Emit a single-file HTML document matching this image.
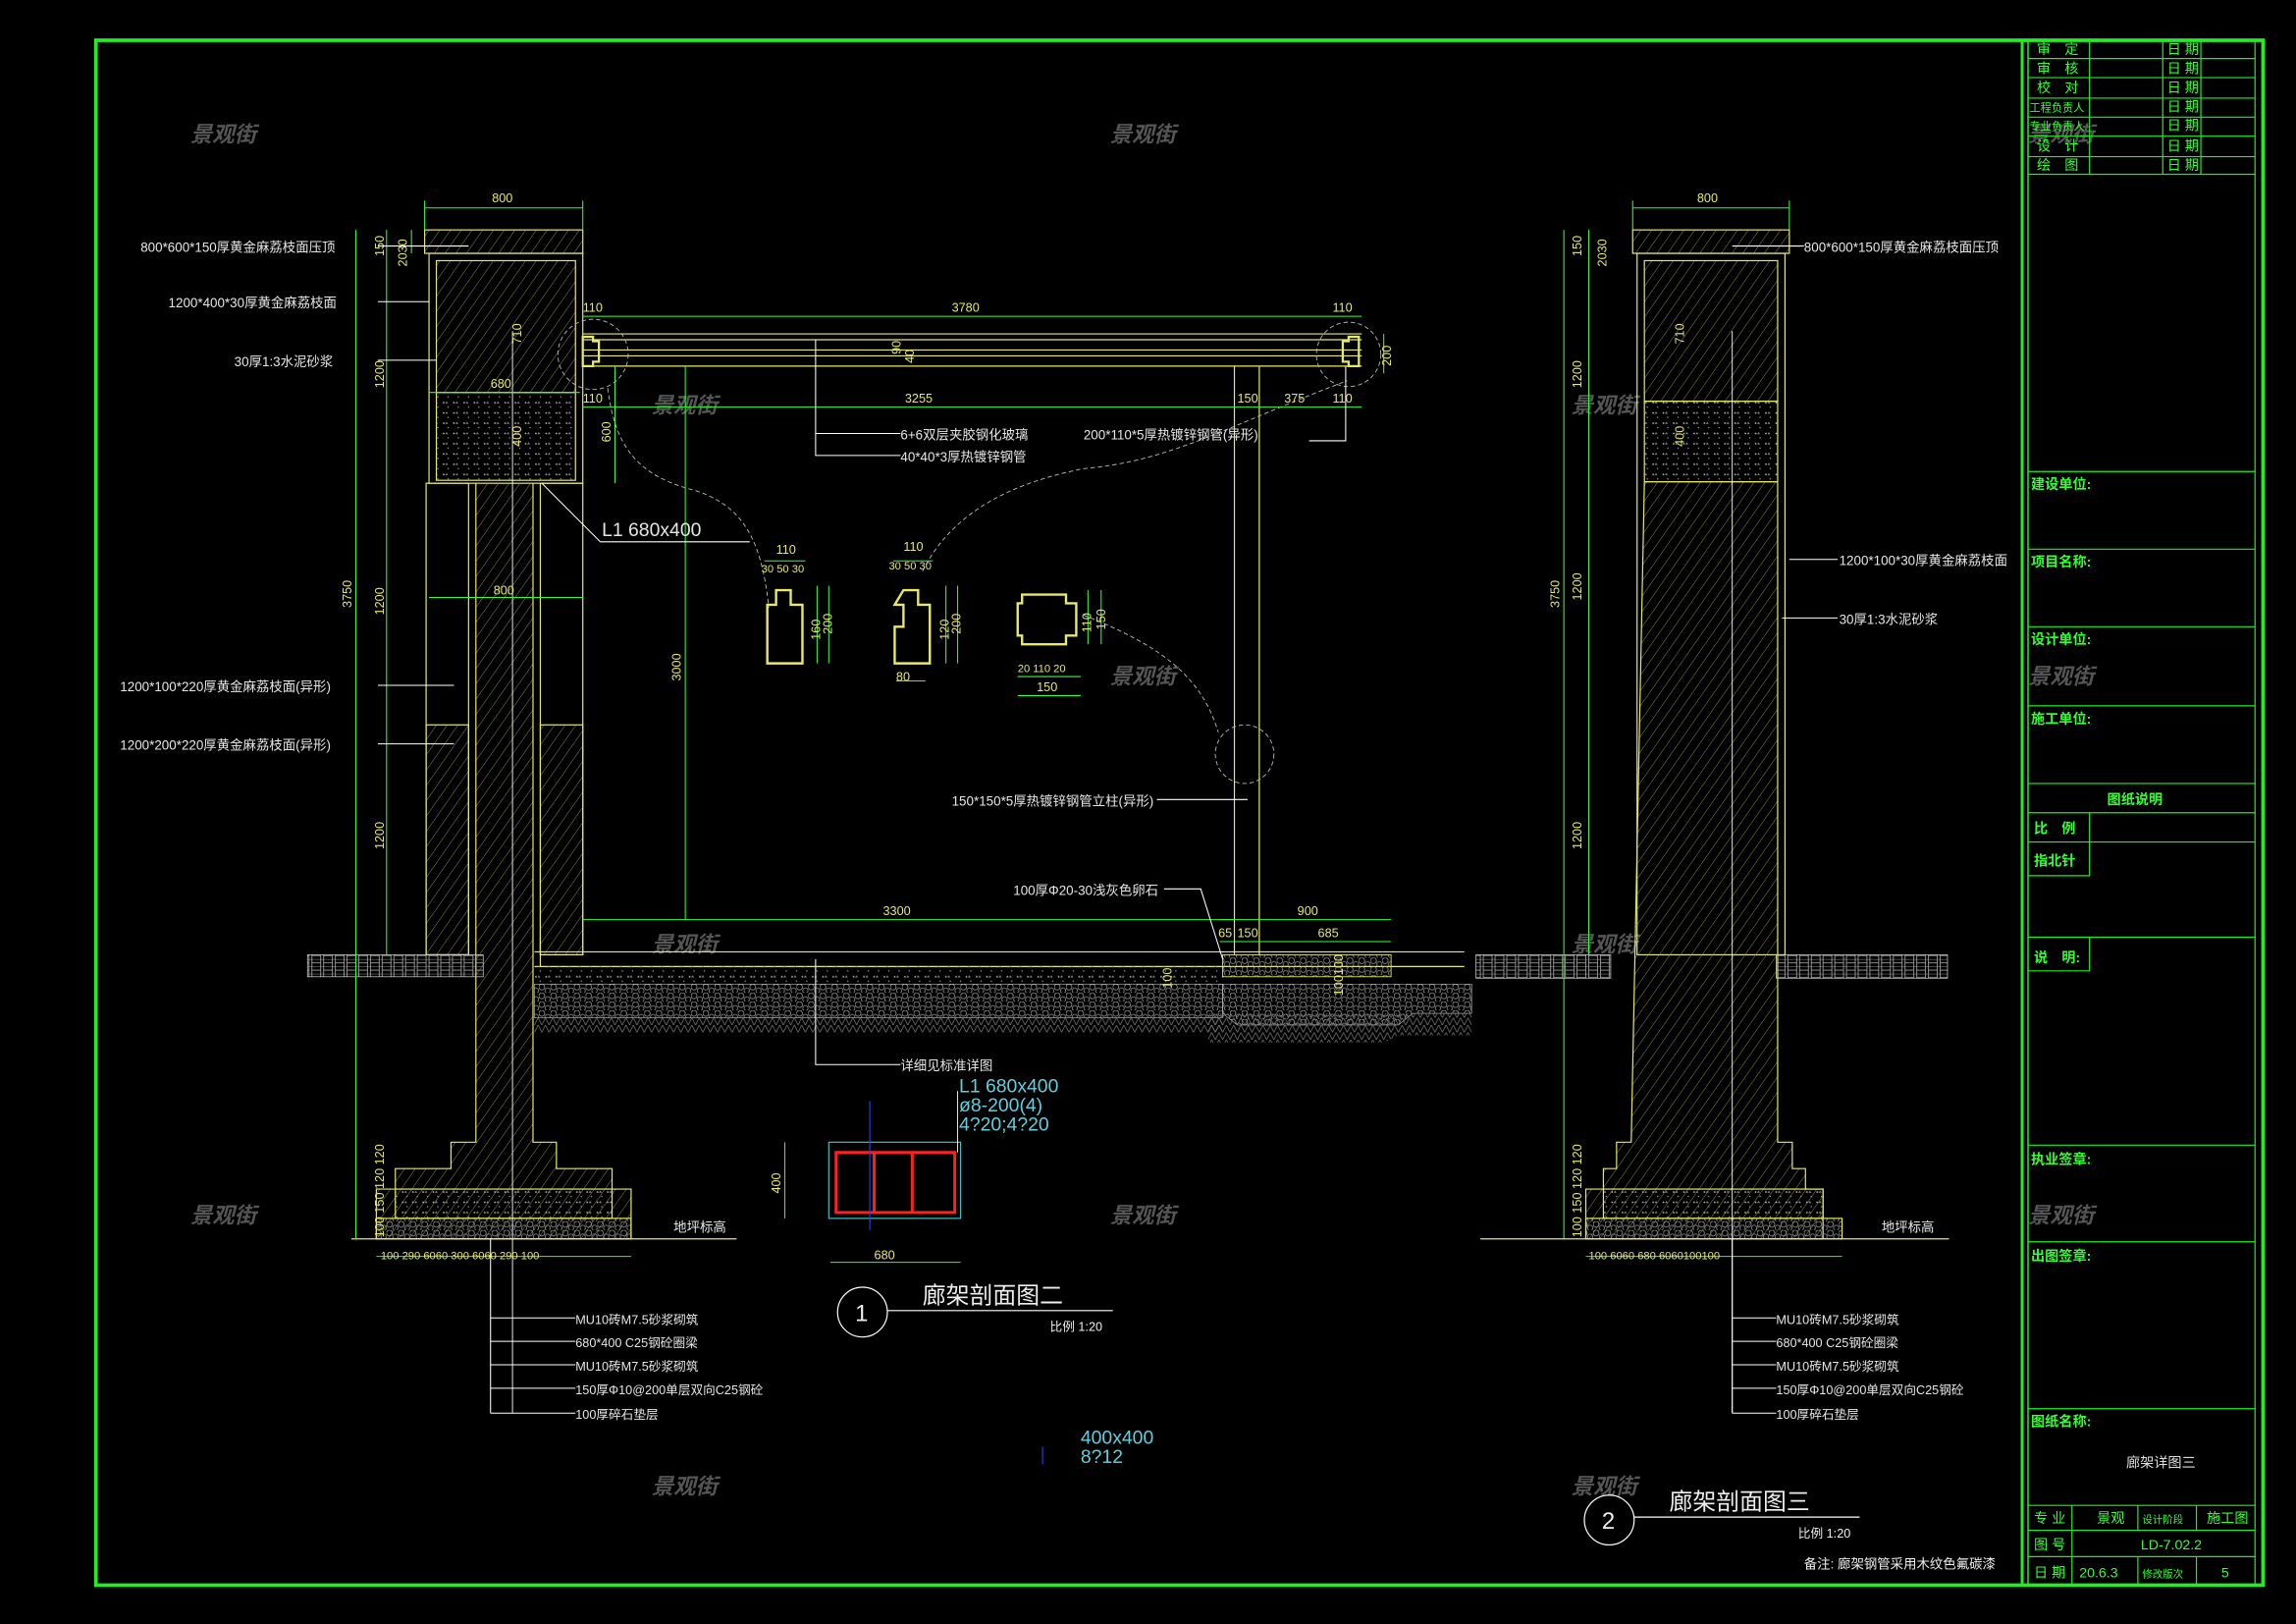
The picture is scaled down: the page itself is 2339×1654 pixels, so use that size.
<!DOCTYPE html>
<html><head><meta charset="utf-8"><style>
html,body{margin:0;padding:0;background:#000;width:2339px;height:1654px;overflow:hidden}
svg{display:block}
text{font-family:"Liberation Sans","Noto Sans CJK SC",sans-serif}
.t{fill:#e6e6e6;font-size:9px}
.d{fill:#e8e86a;font-size:8.5px}
.g{fill:#33ff33;font-size:9.5px}
.w{fill:#555;font-size:15px;font-style:italic;font-weight:bold}
</style></head><body>
<svg width="2339" height="1654" viewBox="0 0 1568 1109" preserveAspectRatio="none">
<defs>
<pattern id="h" width="6" height="6" patternUnits="userSpaceOnUse" patternTransform="rotate(35)"><line x1="0" y1="0" x2="0" y2="6" stroke="#9a9a50" stroke-width="0.6"/></pattern>
<pattern id="c" width="7" height="7" patternUnits="userSpaceOnUse"><circle cx="2" cy="2" r="0.6" fill="#bbb"/><circle cx="5" cy="5" r="0.5" fill="#999"/><path d="M4 1l1 1.5h-2z" fill="#888"/></pattern>
<pattern id="gr" width="8" height="6" patternUnits="userSpaceOnUse"><circle cx="2" cy="2" r="2" fill="none" stroke="#aaa" stroke-width="0.5"/><circle cx="6" cy="4.5" r="1.8" fill="none" stroke="#999" stroke-width="0.5"/></pattern>
<pattern id="gh" width="8" height="5" patternUnits="userSpaceOnUse"><path d="M0 0h8M0 2.5h3M5 2.5h3M3 0v5M5 0v5" stroke="#bbb" stroke-width="0.5" fill="none"/></pattern>
<pattern id="zz" width="5" height="5" patternUnits="userSpaceOnUse"><path d="M0 5l2.5-5 2.5 5" stroke="#777" stroke-width="0.5" fill="none"/></pattern>
</defs>

<!-- watermarks -->
<g class="w">
<text x="130" y="97">景观街</text><text x="758" y="97">景观街</text><text x="1385" y="97">景观街</text>
<text x="445" y="282">景观街</text><text x="1073" y="282">景观街</text>
<text x="758" y="467">景观街</text><text x="1385" y="467">景观街</text>
<text x="445" y="650">景观街</text><text x="1073" y="650">景观街</text>
<text x="130" y="835">景观街</text><text x="758" y="835">景观街</text><text x="1385" y="835">景观街</text>
<text x="445" y="1020">景观街</text><text x="1073" y="1020">景观街</text>
</g>

<!-- border -->
<rect x="65.5" y="27.5" width="1480" height="1055" fill="none" stroke="#22ee22" stroke-width="2.5"/>
<g stroke="#22ee22" fill="none">
<line x1="1381" y1="27" x2="1381" y2="1083" stroke-width="2"/>
<line x1="1385" y1="27" x2="1385" y2="1083" stroke-width="1"/>
<g stroke-width="0.8">
<line x1="1385" y1="40" x2="1540" y2="40"/><line x1="1385" y1="53" x2="1540" y2="53"/><line x1="1385" y1="67" x2="1540" y2="67"/><line x1="1385" y1="80" x2="1540" y2="80"/><line x1="1385" y1="93" x2="1540" y2="93"/><line x1="1385" y1="107" x2="1540" y2="107"/><line x1="1385" y1="119" x2="1540" y2="119"/>
<line x1="1427" y1="27" x2="1427" y2="119"/><line x1="1477" y1="27" x2="1477" y2="119"/><line x1="1503" y1="27" x2="1503" y2="119"/>
<line x1="1540" y1="27" x2="1540" y2="1083"/>
<line x1="1385" y1="322" x2="1540" y2="322"/><line x1="1385" y1="375" x2="1540" y2="375"/><line x1="1385" y1="428" x2="1540" y2="428"/><line x1="1385" y1="482" x2="1540" y2="482"/>
<line x1="1385" y1="535" x2="1540" y2="535"/><line x1="1385" y1="555" x2="1540" y2="555"/><line x1="1385" y1="575" x2="1540" y2="575"/>
<path d="M1427 555v43h-42"/><line x1="1385" y1="640" x2="1540" y2="640"/><path d="M1427 640v23h-42"/>
<line x1="1385" y1="782" x2="1540" y2="782"/><line x1="1385" y1="848" x2="1540" y2="848"/><line x1="1385" y1="962" x2="1540" y2="962"/>
<line x1="1385" y1="1028" x2="1540" y2="1028"/><line x1="1385" y1="1045" x2="1540" y2="1045"/><line x1="1385" y1="1063" x2="1540" y2="1063"/>
<line x1="1415" y1="1028" x2="1415" y2="1083"/><line x1="1460" y1="1028" x2="1460" y2="1045"/><line x1="1500" y1="1028" x2="1500" y2="1045"/>
<line x1="1460" y1="1063" x2="1460" y2="1083"/><line x1="1500" y1="1063" x2="1500" y2="1083"/>
</g></g>
<g class="g" font-size="8">
<text x="1391" y="37">审　定</text><text x="1391" y="50">审　核</text><text x="1391" y="63">校　对</text><text x="1386" y="76" font-size="7.5">工程负责人</text><text x="1386" y="89" font-size="7.5">专业负责人</text><text x="1391" y="103">设　计</text><text x="1391" y="116">绘　图</text>
<text x="1480" y="37">日 期</text><text x="1480" y="50">日 期</text><text x="1480" y="63">日 期</text><text x="1480" y="76">日 期</text><text x="1480" y="89">日 期</text><text x="1480" y="103">日 期</text><text x="1480" y="116">日 期</text>
</g>
<g class="g" font-weight="bold">
<text x="1387" y="334">建设单位:</text><text x="1387" y="387">项目名称:</text><text x="1387" y="440">设计单位:</text><text x="1387" y="494">施工单位:</text>
<text x="1439" y="549">图纸说明</text><text x="1389" y="569">比　例</text><text x="1389" y="591">指北针</text><text x="1389" y="657">说　明:</text>
<text x="1387" y="795">执业签章:</text><text x="1387" y="861">出图签章:</text><text x="1387" y="974">图纸名称:</text>
</g>
<g class="g" font-size="8">
<text x="1452" y="1002" fill="#ddd">廊架详图三</text>
<text x="1389" y="1040">专 业</text><text x="1432" y="1040">景观</text><text x="1463" y="1040" font-size="7">设计阶段</text><text x="1507" y="1040">施工图</text>
<text x="1389" y="1058">图 号</text><text x="1462" y="1058">LD-7.02.2</text>
<text x="1389" y="1077">日 期</text><text x="1420" y="1077">20.6.3</text><text x="1463" y="1077" font-size="7">修改版次</text><text x="1517" y="1077">5</text>
</g>

<!-- ===== SECTION 1 LEFT PILLAR ===== -->
<g stroke="#e8e86a" stroke-width="0.8">
<rect x="290" y="157" width="108" height="16" fill="url(#h)"/>
<rect x="293" y="173" width="105" height="157" fill="none"/>
<rect x="298" y="178" width="95" height="90" fill="url(#h)"/>
<rect x="298" y="268" width="95" height="60" fill="url(#c)"/>
<rect x="291" y="330" width="29" height="322" fill="none"/>
<rect x="369" y="330" width="29" height="322" fill="none"/>
<rect x="291" y="495" width="29" height="157" fill="url(#h)"/>
<rect x="369" y="495" width="29" height="157" fill="url(#h)"/>
<path d="M325 330V780h-17v18h-38v14h-13v34h174v-34h-13v-14h-38v-18h-16V330" fill="url(#h)"/>
<rect x="270" y="812" width="148" height="20" fill="url(#c)"/>
<rect x="257" y="832" width="174" height="14" fill="url(#gr)"/>
</g>
<line x1="350" y1="226" x2="350" y2="965" stroke="#fff" stroke-width="0.6"/>
<rect x="210" y="652" width="120" height="15" fill="url(#gh)" stroke="#ccc" stroke-width="0.5"/>
<line x1="240" y1="846" x2="503" y2="846" stroke="#e8e86a" stroke-width="0.8"/>
<text x="460" y="841" class="t" font-size="7">地坪标高</text>

<!-- beam -->
<g stroke="#e8e86a" stroke-width="0.8" fill="none">
<line x1="398" y1="228" x2="930" y2="228"/><line x1="398" y1="232" x2="930" y2="232"/>
<line x1="398" y1="239" x2="930" y2="239"/><line x1="398" y1="243" x2="930" y2="243"/>
<line x1="398" y1="250" x2="930" y2="250"/>
<path d="M398 230h7v3h4v14h-4v3h-7z" stroke-width="1.5"/>
<path d="M928 230h-7v3h-4v14h4v3h7z" stroke-width="1.5"/>
<line x1="843" y1="250" x2="843" y2="652"/><line x1="860" y1="250" x2="860" y2="652"/>
<!-- floor -->
<line x1="365" y1="650" x2="1000" y2="650"/><line x1="365" y1="660" x2="1000" y2="660"/>
<line x1="369" y1="640" x2="369" y2="660"/>
</g>
<rect x="365" y="672" width="470" height="23" fill="url(#gr)" stroke="#ccc" stroke-width="0.4"/>
<rect x="365" y="660" width="470" height="12" fill="url(#c)"/>
<rect x="365" y="695" width="470" height="10" fill="url(#zz)"/>
<rect x="835" y="652" width="115" height="15" fill="url(#gr)" stroke="#e8e86a" stroke-width="0.6"/>
<path d="M835 672h170v20h-40l-10 8h-110l-10-8z" fill="url(#gr)" stroke="#ccc" stroke-width="0.4"/>
<path d="M825 692h180v15h-50l-10 5h-120z" fill="url(#zz)"/>

<!-- dashed circles/curves -->
<g stroke="#bbb" stroke-width="0.6" fill="none" stroke-dasharray="3 2">
<circle cx="405" cy="242" r="24"/><circle cx="921" cy="242" r="22"/><circle cx="850" cy="515" r="20"/>
<path d="M415 265c5 40 20 60 60 70c30 10 45 30 50 80"/>
<path d="M630 390c20 -40 60 -60 110 -70c60 -5 100 -30 180 -60"/>
<path d="M740 420c50 20 80 40 92 80"/>
</g>

<!-- profiles -->
<g stroke="#e8e86a" stroke-width="1.6" fill="none">
<path d="M530 403h10v10h8v40h-24v-40h6z"/>
<path d="M617 403h10v10h8v40h-24v-25h6v-15h-6v-0z"/>
<path d="M698 406h30v6h7v22h-7v6h-30v-6h-3v-22h3z"/>
</g>

<!-- green dims -->
<g stroke="#33ff33" stroke-width="0.7" fill="none">
<line x1="290" y1="142" x2="398" y2="142"/><line x1="290" y1="137" x2="290" y2="157"/><line x1="398" y1="137" x2="398" y2="157"/>
<line x1="243" y1="157" x2="243" y2="846"/><line x1="264" y1="157" x2="264" y2="652"/><line x1="281" y1="157" x2="281" y2="173"/>
<line x1="398" y1="216" x2="930" y2="216"/><line x1="398" y1="278" x2="930" y2="278"/>
<line x1="420" y1="250" x2="420" y2="330"/>
<line x1="468" y1="250" x2="468" y2="628"/>
<line x1="398" y1="628" x2="843" y2="628"/><line x1="833" y1="628" x2="950" y2="628"/><line x1="833" y1="643" x2="950" y2="643"/>
<line x1="945" y1="228" x2="945" y2="255"/>
<line x1="293" y1="268" x2="396" y2="268"/><line x1="293" y1="408" x2="398" y2="408"/>
<line x1="1068" y1="157" x2="1068" y2="846"/><line x1="1085" y1="157" x2="1085" y2="652"/>
<line x1="1115" y1="142" x2="1222" y2="142"/><line x1="1115" y1="137" x2="1115" y2="157"/><line x1="1222" y1="137" x2="1222" y2="157"/>
<line x1="257" y1="858" x2="431" y2="858"/><line x1="1083" y1="858" x2="1258" y2="858"/>
<line x1="567" y1="862" x2="656" y2="862"/><line x1="536" y1="780" x2="536" y2="832"/>
<line x1="522" y1="383" x2="550" y2="383"/><line x1="610" y1="383" x2="637" y2="383"/>
<line x1="558" y1="400" x2="558" y2="453"/><line x1="566" y1="400" x2="566" y2="453"/>
<line x1="646" y1="400" x2="646" y2="453"/><line x1="654" y1="400" x2="654" y2="453"/>
<line x1="743" y1="403" x2="743" y2="440"/><line x1="752" y1="403" x2="752" y2="440"/>
<line x1="695" y1="462" x2="738" y2="462"/><line x1="695" y1="475" x2="738" y2="475"/>
<line x1="612" y1="465" x2="632" y2="465"/>
</g>
<g class="d">
<text x="336" y="138">800</text><text x="1159" y="138">800</text>
<text x="650" y="213">3780</text><text x="398" y="213">110</text><text x="910" y="213">110</text>
<text x="618" y="275">3255</text><text x="398" y="275">110</text><text x="845" y="275">150</text><text x="877" y="275">375</text><text x="910" y="275">110</text>
<text x="335" y="265">680</text><text x="337" y="406">800</text>
<text x="603" y="625">3300</text><text x="886" y="625">900</text>
<text x="832" y="640">65</text><text x="845" y="640">150</text><text x="900" y="640">685</text>
<text x="260" y="860" font-size="7.5">100  290  6060  300  6060  290  100</text>
<text x="1085" y="860" font-size="7.5">100  6060      680       6060100100</text>
<text x="530" y="378">110</text><text x="520" y="391" font-size="7.5">30 50 30</text>
<text x="617" y="376">110</text><text x="607" y="389" font-size="7.5">30 50 30</text>
<text x="612" y="465">80</text><text x="695" y="459" font-size="7.5">20 110 20</text><text x="708" y="472">150</text>
<text x="597" y="860">680</text>
</g>
<g class="d" font-size="8">
<text transform="translate(240,415) rotate(-90)">3750</text>
<text transform="translate(262,265) rotate(-90)">1200</text><text transform="translate(262,420) rotate(-90)">1200</text><text transform="translate(262,580) rotate(-90)">1200</text>
<text transform="translate(262,175) rotate(-90)">150</text><text transform="translate(278,182) rotate(-90)">2030</text>
<text transform="translate(356,235) rotate(-90)">710</text><text transform="translate(356,305) rotate(-90)">400</text>
<text transform="translate(417,302) rotate(-90)">600</text><text transform="translate(465,465) rotate(-90)">3000</text>
<text transform="translate(615,242) rotate(-90)">90</text><text transform="translate(624,248) rotate(-90)">40</text>
<text transform="translate(950,250) rotate(-90)">200</text>
<text transform="translate(1065,415) rotate(-90)">3750</text>
<text transform="translate(1080,265) rotate(-90)">1200</text><text transform="translate(1080,580) rotate(-90)">1200</text><text transform="translate(1080,410) rotate(-90)">1200</text>
<text transform="translate(1080,175) rotate(-90)">150</text><text transform="translate(1097,182) rotate(-90)">2030</text>
<text transform="translate(1150,235) rotate(-90)">710</text><text transform="translate(1150,305) rotate(-90)">400</text>
<text transform="translate(262,845) rotate(-90)">100  150  120 120</text>
<text transform="translate(1080,845) rotate(-90)">100  150  120 120</text>
<text transform="translate(800,675) rotate(-90)">100</text><text transform="translate(917,680) rotate(-90)">100100</text>
<text transform="translate(560,437) rotate(-90)">160</text><text transform="translate(568,433) rotate(-90)">200</text>
<text transform="translate(648,437) rotate(-90)">120</text><text transform="translate(656,433) rotate(-90)">200</text>
<text transform="translate(745,432) rotate(-90)">110</text><text transform="translate(755,430) rotate(-90)">150</text>
<text transform="translate(533,815) rotate(-90)">400</text>
</g>

<!-- ===== SECTION 2 RIGHT PILLAR ===== -->
<g stroke="#e8e86a" stroke-width="0.8">
<rect x="1115" y="157" width="107" height="16" fill="url(#h)"/>
<rect x="1118" y="173" width="101" height="479" fill="none"/>
<rect x="1123" y="178" width="91" height="96" fill="url(#h)"/>
<rect x="1123" y="274" width="91" height="55" fill="url(#c)"/>
<path d="M1123 329h91v451h10v18h9v14h12v34h-162v-34h12v-14h9v-18h10z" fill="url(#h)"/>
<rect x="1095" y="812" width="150" height="20" fill="url(#c)"/>
<rect x="1083" y="832" width="175" height="14" fill="url(#gr)"/>
</g>
<line x1="1183" y1="226" x2="1183" y2="965" stroke="#fff" stroke-width="0.6"/>
<rect x="1008" y="652" width="92" height="16" fill="url(#gh)" stroke="#ccc" stroke-width="0.5"/>
<rect x="1213" y="652" width="117" height="16" fill="url(#gh)" stroke="#ccc" stroke-width="0.5"/>
<line x1="1011" y1="846" x2="1331" y2="846" stroke="#e8e86a" stroke-width="0.8"/>
<text x="1285" y="841" class="t" font-size="7">地坪标高</text>

<!-- leaders -->
<g stroke="#fff" stroke-width="0.7" fill="none">
<line x1="258" y1="168" x2="320" y2="168"/><line x1="258" y1="206" x2="293" y2="206"/><line x1="258" y1="246" x2="298" y2="246"/>
<line x1="258" y1="468" x2="310" y2="468"/><line x1="258" y1="508" x2="310" y2="508"/>
<path d="M335 846V965M335 900h58M335 916h58M335 932h58M335 948h58M335 965h58"/>
<path d="M1183 846V965M1183 900h30M1183 916h30M1183 932h30M1183 948h30M1183 965h30"/>
<line x1="1183" y1="168" x2="1232" y2="168"/><line x1="1222" y1="382" x2="1255" y2="382"/><line x1="1217" y1="422" x2="1255" y2="422"/>
<path d="M557 232V311h58M557 296h58"/>
<path d="M919 250V301h-25"/>
<line x1="790" y1="546" x2="852" y2="546"/>
<path d="M795 607h25l15 48"/>
<path d="M557 655V727h58"/>
<path d="M370 330l40 40h102"/>
</g>
<g class="t">
<text x="96" y="172" text-anchor="start">800*600*150厚黄金麻荔枝面压顶</text>
<text x="115" y="210">1200*400*30厚黄金麻荔枝面</text>
<text x="160" y="250">30厚1:3水泥砂浆</text>
<text x="82" y="472">1200*100*220厚黄金麻荔枝面(异形)</text>
<text x="82" y="512">1200*200*220厚黄金麻荔枝面(异形)</text>
<text x="1232" y="172">800*600*150厚黄金麻荔枝面压顶</text>
<text x="1256" y="386">1200*100*30厚黄金麻荔枝面</text>
<text x="1256" y="426">30厚1:3水泥砂浆</text>
<text x="615" y="300">6+6双层夹胶钢化玻璃</text>
<text x="615" y="315">40*40*3厚热镀锌钢管</text>
<text x="740" y="300">200*110*5厚热镀锌钢管(异形)</text>
<text x="650" y="550">150*150*5厚热镀锌钢管立柱(异形)</text>
<text x="692" y="611">100厚Φ20-30浅灰色卵石</text>
<text x="615" y="731">详细见标准详图</text>
<g font-size="8.5">
<text x="393" y="904">MU10砖M7.5砂浆砌筑</text><text x="393" y="920">680*400 C25钢砼圈梁</text><text x="393" y="936">MU10砖M7.5砂浆砌筑</text><text x="393" y="952">150厚Φ10@200单层双向C25钢砼</text><text x="393" y="969">100厚碎石垫层</text>
<text x="1213" y="904">MU10砖M7.5砂浆砌筑</text><text x="1213" y="920">680*400 C25钢砼圈梁</text><text x="1213" y="936">MU10砖M7.5砂浆砌筑</text><text x="1213" y="952">150厚Φ10@200单层双向C25钢砼</text><text x="1213" y="969">100厚碎石垫层</text>
</g>
<text x="411" y="366" font-size="13">L1 680x400</text>
</g>

<!-- rebar section -->
<rect x="566" y="780" width="90" height="52" fill="none" stroke="#40c0c0" stroke-width="0.8"/>
<g stroke="#ff2020" stroke-width="2" fill="none">
<rect x="571" y="787" width="81" height="41"/><line x1="597" y1="787" x2="597" y2="828"/><line x1="623" y1="787" x2="623" y2="828"/>
</g>
<line x1="594" y1="752" x2="594" y2="840" stroke="#3040ff" stroke-width="0.7"/>
<line x1="654" y1="745" x2="654" y2="787" stroke="#fff" stroke-width="0.6"/>
<line x1="712" y1="988" x2="712" y2="1000" stroke="#3040ff" stroke-width="0.7"/>
<g fill="#5fd0e0" font-size="13">
<text x="655" y="746">L1 680x400</text><text x="655" y="759">ø8-200(4)</text><text x="655" y="772">4?20;4?20</text>
<text x="738" y="986">400x400</text><text x="738" y="999">8?12</text>
</g>
<rect x="730" y="999" width="130" height="10" fill="#000"/>

<!-- titles -->
<g stroke="#fff" stroke-width="0.8" fill="none">
<circle cx="589" cy="896" r="17"/><line x1="606" y1="895" x2="760" y2="895"/>
<circle cx="1099" cy="1038" r="17"/><line x1="1116" y1="1036" x2="1270" y2="1036"/>
</g>
<g fill="#eee">
<text x="584" y="902" font-size="16" font-family="Liberation Serif">1</text>
<text x="1094" y="1044" font-size="16" font-family="Liberation Serif">2</text>
<text x="630" y="890" font-size="16">廊架剖面图二</text>
<text x="1140" y="1031" font-size="16">廊架剖面图三</text>
<text x="717" y="909" font-size="8.5">比例 1:20</text>
<text x="1228" y="1050" font-size="8.5">比例 1:20</text>
<text x="1232" y="1071" font-size="9">备注: 廊架钢管采用木纹色氟碳漆</text>
</g>
</svg>
</body></html>
